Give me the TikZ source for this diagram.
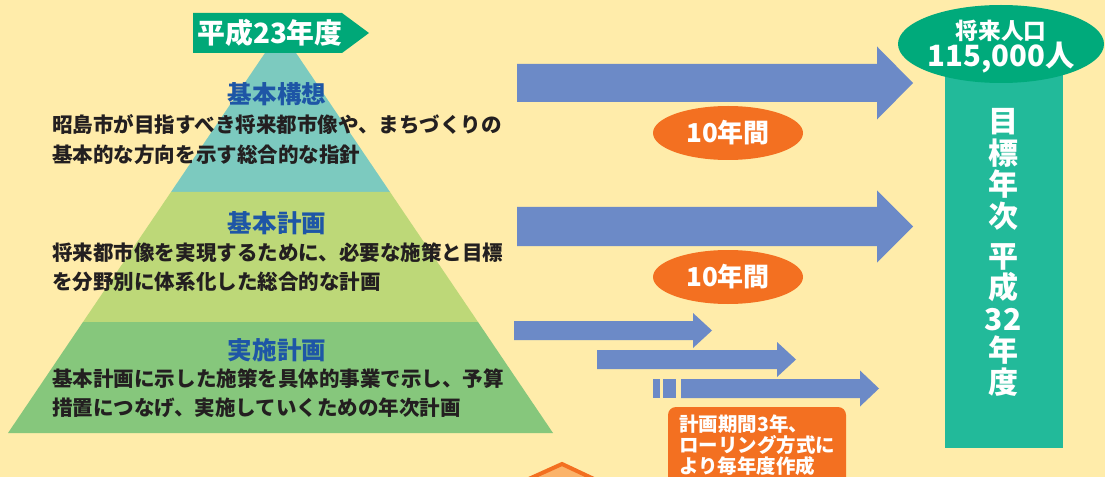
\documentclass[tikz,border=0pt]{standalone}
\usepackage{fontspec}
\setmainfont{Noto Sans CJK JP}
\usepackage{xcolor}
\usetikzlibrary{shapes.geometric, positioning, calc}
\definecolor{bgyellow}{HTML}{FFECAA}
\definecolor{taggreen}{HTML}{00A878}
\definecolor{bandteal}{HTML}{7CCABF}
\definecolor{bandlight}{HTML}{BDD878}
\definecolor{bandgreen}{HTML}{86C77C}
\definecolor{arrowblue}{HTML}{6C8AC7}
\definecolor{planorange}{HTML}{F37021}
\definecolor{peach}{HTML}{FBB36A}
\definecolor{barteal}{HTML}{22BA9A}
\definecolor{popgreen}{HTML}{00AA7B}
\definecolor{titleblue}{HTML}{1E56A6}
\definecolor{textdark}{HTML}{231F20}
\tikzstyle{title} = [font=\fontsize{18.4}{22}\selectfont\bfseries, text=titleblue, inner sep=0pt]
\tikzstyle{desc} = [font=\fontsize{15.4}{22}\selectfont\bfseries, text=textdark, align=left, anchor=west, inner sep=0pt]
\tikzstyle{period} = [ellipse, fill=planorange, text=white, inner sep=0pt, minimum width=112.5pt, minimum height=40.5pt, font=\fontsize{19.5}{22}\selectfont\bfseries]
% start x, shaft end x, tip x, centre y, shaft half, head half
\newcommand{\blockarrow}[6]{%
  \fill[arrowblue] (#1,#4-#5) -- (#2,#4-#5) -- (#2,#4-#6) -- (#3,#4) -- (#2,#4+#6) -- (#2,#4+#5) -- (#1,#4+#5) -- cycle;}

\begin{document}
\begin{tikzpicture}[x=0.75pt, y=-0.75pt]
    % Background
    \fill[bgyellow] (0,0) rectangle (1105,477);
    \useasboundingbox (0,0) rectangle (1105,477);

    % Pyramid
    \coordinate (apex) at (280.5,30);
    \fill[bandteal] (apex) -- (390,192) -- (171,192) -- cycle;
    \fill[bandlight] (171,192) -- (390,192) -- (478,322) -- (83,322) -- cycle;
    \fill[bandgreen] (83,322) -- (478,322) -- (553,433) -- (8,433) -- cycle;

    % Start year tag
    \fill[taggreen] (193,13) -- (342,13) -- (369,33) -- (342,53) -- (193,53) -- cycle;
    \node[text=white, font=\fontsize{20.9}{24}\selectfont\bfseries, inner sep=0pt] (start) at (270,33) {平成23年度};

    % Layers
    \node[title] (vision) at (277,94) {基本構想};
    \node[desc] (visiontext) at (52,139.5) {昭島市が目指すべき将来都市像や、まちづくりの\\基本的な方向を示す総合的な指針};
    \node[title] (basic) at (277,223) {基本計画};
    \node[desc] (basictext) at (52,267.5) {将来都市像を実現するために、必要な施策と目標\\を分野別に体系化した総合的な計画};
    \node[title] (action) at (277,350) {実施計画};
    \node[desc] (actiontext) at (52,393.5) {基本計画に示した施策を具体的事業で示し、予算\\措置につなげ、実施していくための年次計画};

    % Periods
    \blockarrow{517}{877}{913}{83}{19}{36.5}
    \blockarrow{517}{877}{913}{226.5}{19.5}{36}
    \node[period] (years1) at (728,133) {10年間};
    \node[period] (years2) at (728,277) {10年間};

    % Rolling plan
    \blockarrow{514}{693}{712}{330.5}{9.5}{17.5}
    \blockarrow{597}{777}{796}{359.5}{9.5}{17.5}
    \fill[arrowblue] (653,379) rectangle (660,398);
    \fill[arrowblue] (663,379) rectangle (676,398);
    \blockarrow{681}{860}{879}{388.5}{9.5}{18}
    \fill[planorange, rounded corners=6pt] (668,407) rectangle (846,500);
    \node[text=white, font=\fontsize{14.6}{15.75}\selectfont\bfseries, align=left, anchor=west, inner sep=0pt] (rolling) at (679,445) {計画期間3年、\\ローリング方式に\\より毎年度作成};

    % Bottom marker
    \filldraw[fill=peach, draw=planorange, line width=3pt, line join=miter] (511,487) -- (562,464) -- (611,487);

    % Target year
    \fill[barteal] (945,60) rectangle (1063,448);
    \node[ellipse, fill=popgreen, inner sep=0pt, minimum width=154.5pt, minimum height=58.5pt] (popshape) at (1001,44) {};
    \node[text=white, font=\fontsize{17}{19}\selectfont\bfseries, inner sep=0pt] (poplabel) at (1001,31) {将来人口};
    \node[text=white, font=\fontsize{22}{24}\selectfont\bfseries, inner sep=0pt] (population) at (1001,58) {115,000人};
    \node[text=white, align=center, inner sep=0pt, font=\fontsize{22.5}{23.7}\selectfont\bfseries] (target) at (1003,252.5)
        {目\\標\\年\\次\\[6pt]平\\成\\32\\年\\度};
\end{tikzpicture}
\end{document}
